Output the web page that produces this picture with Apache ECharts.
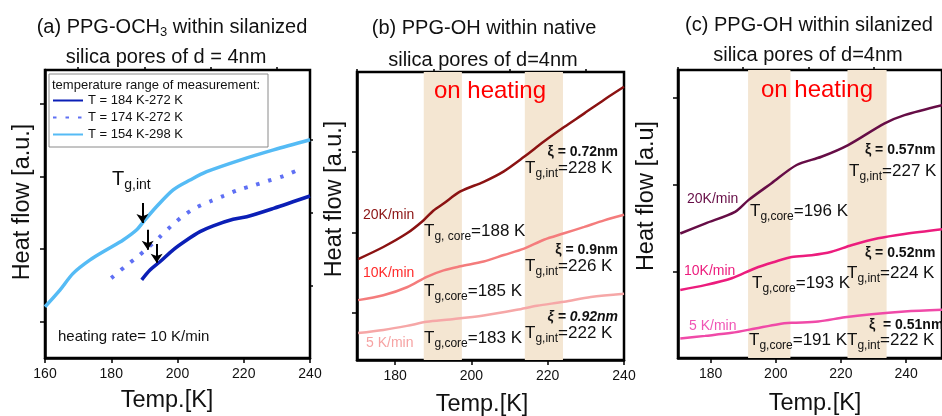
<!DOCTYPE html>
<html>
<head>
<meta charset="utf-8">
<script src="https://cdn.jsdelivr.net/npm/echarts@6/dist/echarts.min.js"></script>
<style>
  html, body { margin: 0; padding: 0; background: #fff; }
  #chart { width: 942px; height: 416px; }
</style>
</head>
<body>
<div id="chart"></div>
<script>
// (a) PPG-OCH3, silanized pores, 10 K/min, three measurement ranges
const tempA184 = [189.2, 191.7, 194.7, 198.7, 202.8, 206.8, 210.8, 216.8, 220.9, 229, 240];
const flowA184 = [2.15, 2.42, 2.65, 2.98, 3.25, 3.48, 3.64, 3.82, 3.89, 4.12, 4.46];
const tempA174 = [180, 184.2, 187.7, 191, 194.7, 198.2, 201.8, 205.8, 209.8, 213.8, 218.4, 222.9, 227.4, 232, 236.5];
const flowA174 = [2.20, 2.52, 2.77, 3.03, 3.34, 3.64, 3.92, 4.15, 4.31, 4.46, 4.63, 4.75, 4.88, 5.01, 5.18];
const tempA154 = [160, 164.5, 168.5, 173.6, 178.6, 183.6, 187.7, 189.7, 193.7, 198.7, 203.8, 208.8, 218.9, 229, 240];
const flowA154 = [1.41, 1.87, 2.33, 2.70, 2.98, 3.25, 3.53, 3.75, 4.17, 4.63, 4.90, 5.13, 5.45, 5.73, 6.01];
const namesA = ["T = 184 K-272 K", "T = 174 K-272 K", "T = 154 K-298 K"];
// Tg,int arrows (x, top of shaft, tip)
const arrowT = [189.4, 191.0, 193.7];
const arrowTop = [4.27, 3.53, 3.14];
const arrowTip = [3.72, 2.98, 2.62];

// (b) PPG-OH, native pores
const tempB20 = [170.3, 176.9, 183.1, 187.4, 190, 192.7, 197.1, 203.2, 208.5, 213.8, 219, 224.3, 229.6, 234.8, 240];
const flowB20 = [0.67, 0.82, 0.99, 1.15, 1.27, 1.36, 1.51, 1.63, 1.76, 1.94, 2.13, 2.31, 2.48, 2.65, 2.81];
const tempB10 = [170.3, 176.9, 183.1, 188.3, 192.7, 197.1, 203.2, 208.5, 213.8, 219, 224.3, 229.6, 234.8, 240];
const flowB10 = [0.16, 0.22, 0.32, 0.45, 0.53, 0.58, 0.64, 0.72, 0.80, 0.91, 0.99, 1.07, 1.15, 1.22];
const tempB5 = [170.3, 176.9, 183.1, 188.3, 194.4, 203.2, 211.9, 217.2, 224.3, 231.3, 240];
const flowB5 = [-0.25, -0.21, -0.16, -0.11, -0.08, -0.03, 0.04, 0.09, 0.14, 0.20, 0.24];
const bandsB = [[187.5, 197.5], [214, 224]];

// (c) PPG-OH, silanized pores
const tempC20 = [170.7, 178.3, 187.5, 191.6, 198.7, 206.4, 214, 222.2, 233.4, 239.5, 251];
const flowC20 = [2.87, 3.10, 3.37, 3.64, 4.03, 4.45, 4.64, 4.91, 5.41, 5.60, 5.83];
const tempC10 = [170.7, 178.3, 186.5, 193.7, 199.8, 204.9, 211.0, 217.1, 223.2, 231.4, 239.5, 251];
const flowC10 = [1.57, 1.68, 1.84, 2.07, 2.22, 2.33, 2.37, 2.45, 2.60, 2.76, 2.86, 2.97];
const tempC5 = [170.7, 178.3, 186.5, 193.7, 200.8, 204.9, 213.0, 221.2, 229.4, 239.5, 251];
const flowC5 = [0.45, 0.51, 0.58, 0.68, 0.78, 0.81, 0.84, 0.94, 1.01, 1.07, 1.11];
const bandsC = [[191.5, 204.5], [222, 234]];

const xTicksA = [160, 180, 200, 220, 240];
const xMinorA = [170, 190, 210, 230];
const xTicksBC = [180, 200, 220, 240];
const xMinorBC = [170, 190, 210, 230];

const FONT = "'Liberation Sans', Arial, sans-serif";
const zip = (xs, ys) => xs.map((x, i) => [x, ys[i]]);

function axisPair(grid, min, max, majors, minors, labels) {
  return [
    {
      type: "value", gridIndex: grid, min: min, max: max,
      axisLine: { show: true, onZero: false, lineStyle: { color: "#000", width: 2.5 } },
      splitLine: { show: false },
      axisTick: { show: true, customValues: majors, length: 5, lineStyle: { color: "#000", width: 1.5 } },
      axisLabel: labels
        ? { show: true, customValues: majors, fontSize: 14, color: "#111", fontFamily: FONT, margin: 9 }
        : { show: false },
    },
    {
      type: "value", gridIndex: grid, min: min, max: max,
      axisLine: { show: false, onZero: false },
      splitLine: { show: false },
      axisTick: { show: true, customValues: minors, length: 3, lineStyle: { color: "#000", width: 1.5 } },
      axisLabel: { show: false },
    },
  ];
}

function curve(name, xi, data, color, width, type) {
  return {
    name: name, type: "line", xAxisIndex: xi, yAxisIndex: xi,
    data: data, showSymbol: false, symbol: "none",
    smooth: 0.3, z: 3,
    lineStyle: { color: color, width: width, type: type || "solid" },
    itemStyle: { color: color },
    animation: false,
  };
}

function bandSeries(xi, bands) {
  return {
    type: "line", xAxisIndex: xi, yAxisIndex: xi, data: [], z: 1, silent: true,
    markArea: {
      silent: true,
      itemStyle: { color: "#f4e6d2" },
      data: bands.map(b => [{ xAxis: b[0] }, { xAxis: b[1] }]),
    },
  };
}

// text helpers
function txt(x, y, text, extra) {
  return {
    type: "text", x: x, y: y, z: 100, silent: true,
    style: Object.assign({
      text: text, fontSize: 17, fontFamily: FONT, fill: "#111",
      textAlign: "left", textVerticalAlign: "middle",
    }, extra || {}),
  };
}
function tg(x, y, sub, rest, big, small) {
  big = big || 17; small = small || 12;
  return txt(x, y, "{t|T}{s|" + sub + "}{t|" + rest + "}", {
    rich: {
      t: { fontSize: big, fontFamily: FONT, fill: "#111", lineHeight: big + 3, verticalAlign: "top" },
      s: { fontSize: small, fontFamily: FONT, fill: "#111", lineHeight: small, padding: [big - 6, 0, 0, 0], verticalAlign: "bottom" },
    },
  });
}
function xi(x, y, val, align, italic) {
  const st = italic ? "italic" : "normal";
  return txt(x, y, "{r|ξ = }{b|" + val + "}", {
    textAlign: align,
    rich: {
      r: { fontSize: 14, fontFamily: FONT, fill: "#111", fontWeight: "bold", fontStyle: st },
      b: { fontSize: 14, fontFamily: FONT, fill: "#111", fontWeight: "bold", fontStyle: st },
    },
  });
}
function title(x, y, text, rich) {
  return txt(x, y, text, { fontSize: 20, textAlign: "center", rich: rich });
}
function vtitle(x, y, text) {
  return {
    type: "text", x: x, y: y, z: 100, rotation: Math.PI / 2, silent: true,
    style: { text: text, fontSize: 23.5, fontFamily: FONT, fill: "#111", textAlign: "center", textVerticalAlign: "middle" },
  };
}

const chart = echarts.init(document.getElementById("chart"), null, { renderer: "canvas" });

const option = {
  backgroundColor: "#fff",
  animation: false,
  grid: [
    { left: 45, top: 70, width: 265, height: 288, show: true, borderColor: "#000", borderWidth: 2.5 },
    { left: 357, top: 72, width: 267, height: 288, show: true, borderColor: "#000", borderWidth: 2.5 },
    { left: 678, top: 70, width: 265, height: 288, show: true, borderColor: "#000", borderWidth: 2.5 },
  ],
  xAxis: [].concat(
    axisPair(0, 160, 240, xTicksA, xMinorA, true),
    axisPair(1, 170, 240, xTicksBC, xMinorBC, true),
    axisPair(2, 170, 251, xTicksBC, xMinorBC, true)
  ),
  yAxis: [].concat(
    axisPair(0, 0, 7.93, [1, 3, 5, 7], [2, 4, 6], false),
    axisPair(1, -0.584, 2.994, [0, 1, 2], [], false),
    axisPair(2, 0, 6.64, [2, 4, 6], [1, 3, 5], false)
  ),
  legend: {
    data: namesA, orient: "vertical", left: 52, top: 94, padding: 0,
    itemWidth: 30, itemHeight: 14, itemGap: 4,
    itemStyle: { opacity: 0 },
    textStyle: { fontSize: 13, fontFamily: FONT, color: "#111" },
    selectedMode: false,
  },
  series: [
    Object.assign(curve(namesA[0], 0, zip(tempA184, flowA184), "#0b1fb6", 3.5), {
      markLine: {
        silent: true, symbol: ["none", "arrow"], symbolSize: 9,
        lineStyle: { color: "#000", width: 2, type: "solid" },
        label: { show: false },
        data: arrowT.map((t, i) => [{ coord: [t, arrowTop[i]] }, { coord: [t, arrowTip[i]] }]),
      },
    }),
    curve(namesA[1], 0, zip(tempA174, flowA174), "#5f70f4", 4, [3.5, 9]),
    curve(namesA[2], 0, zip(tempA154, flowA154), "#55bbf5", 3.5),

    bandSeries(2, bandsB),
    curve("b20", 2, zip(tempB20, flowB20), "#8b1212", 2.5),
    curve("b10", 2, zip(tempB10, flowB10), "#f47c7c", 2.5),
    curve("b5", 2, zip(tempB5, flowB5), "#f6a7a7", 2.5),

    bandSeries(4, bandsC),
    curve("c20", 4, zip(tempC20, flowC20), "#660d46", 2.5),
    curve("c10", 4, zip(tempC10, flowC10), "#ec1c7d", 2.5),
    curve("c5", 4, zip(tempC5, flowC5), "#f04aa8", 2.5),
  ],
  graphic: [
    // panel titles
    title(172, 27, "(a) PPG-OCH{s|3} within silanized", {
      s: { fontSize: 13, fontFamily: FONT, fill: "#111", padding: [10, 0, 0, 0], verticalAlign: "bottom" },
    }),
    title(166, 57, "silica pores of d = 4nm"),
    title(484, 28, "(b) PPG-OH within native"),
    title(483, 60, "silica pores of d=4nm"),
    title(809, 25, "(c) PPG-OH within silanized"),
    title(808, 55, "silica pores of d=4nm"),

    // axis titles
    vtitle(23, 202, "Heat flow [a.u.]"),
    vtitle(335, 199, "Heat flow [a.u.]"),
    vtitle(647, 196, "Heat flow [a.u]"),
    txt(167, 401, "Temp.[K]", { fontSize: 23.5, textAlign: "center" }),
    txt(482, 405, "Temp.[K]", { fontSize: 23.5, textAlign: "center" }),
    txt(815, 404, "Temp.[K]", { fontSize: 23.5, textAlign: "center" }),

    // (a) legend frame + annotations
    { type: "rect", z: 100, silent: true, shape: { x: 49, y: 74, width: 219, height: 73 },
      style: { fill: "none", stroke: "#8a8a8a", lineWidth: 1 } },
    txt(52, 85, "temperature range of measurement:", { fontSize: 13 }),
    txt(58, 337, "heating rate= 10 K/min", { fontSize: 15 }),
    tg(112, 181, "g,int", "", 20, 14),

    // (b) annotations
    txt(490, 91, "on heating", { fontSize: 24, fill: "#ff0000", textAlign: "center" }),
    txt(363, 215, "20K/min", { fontSize: 14, fill: "#8b1212" }),
    txt(363, 273, "10K/min", { fontSize: 14, fill: "#ff2a2a" }),
    txt(366, 343, "5 K/min", { fontSize: 14, fill: "#f6a3a3" }),
    tg(424, 233, "g, core", "=188 K"),
    tg(424, 293, "g,core", "=185 K"),
    tg(424, 340, "g,core", "=183 K"),
    xi(618, 152, "0.72nm", "right"),
    xi(618, 250, "0.9nm", "right"),
    xi(618, 317, "0.92nm", "right", true),
    tg(525, 170, "g,int", "=228 K"),
    tg(525, 268, "g,int", "=226 K"),
    tg(525, 335, "g,int", "=222 K"),

    // (c) annotations
    txt(817, 90, "on heating", { fontSize: 24, fill: "#ff0000", textAlign: "center" }),
    txt(687, 199, "20K/min", { fontSize: 14, fill: "#660d46" }),
    txt(684, 271, "10K/min", { fontSize: 14, fill: "#ec1c7d" }),
    txt(689, 326, "5 K/min", { fontSize: 14, fill: "#f055b5" }),
    tg(750, 213, "g,core", "=196 K"),
    tg(752, 285, "g,core", "=193 K"),
    tg(749, 342, "g,core", "=191 K"),
    xi(865, 150, "0.57nm", "left"),
    xi(865, 253, "0.52nm", "left"),
    txt(869, 325, "{r|ξ  = }{b|0.51nm}", {
      rich: {
        r: { fontSize: 14, fontFamily: FONT, fill: "#111", fontWeight: "bold" },
        b: { fontSize: 14, fontFamily: FONT, fill: "#111", fontWeight: "bold" },
      },
    }),
    tg(849, 173, "g,int", "=227 K"),
    tg(847, 275, "g,int", "=224 K"),
    tg(847, 342, "g,int", "=222 K"),
  ],
};

chart.setOption(option);
</script>
</body>
</html>
